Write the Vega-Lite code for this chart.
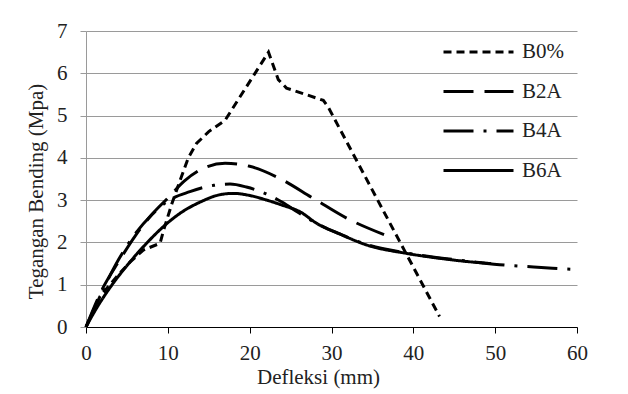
{
  "$schema": "https://vega.github.io/schema/vega-lite/v6.json",
  "width": 491,
  "height": 296,
  "autosize": "none",
  "padding": {"left": 86, "top": 31, "right": 51, "bottom": 67},
  "background": "white",
  "config": {
    "font": "Liberation Serif",
    "view": {"stroke": null},
    "axis": {"labelFont": "Liberation Serif", "titleFont": "Liberation Serif", "labelColor": "#222", "titleColor": "#222", "titleFontWeight": "normal"},
    "legend": {"labelFont": "Liberation Serif"}
  },
  "datasets": {
    "curves": [
      {"s": "B0%", "d": 0, "t": 0},
      {"s": "B0%", "d": 1.7, "t": 0.72},
      {"s": "B0%", "d": 3.75, "t": 1.19},
      {"s": "B0%", "d": 5.4, "t": 1.54},
      {"s": "B0%", "d": 7, "t": 1.82},
      {"s": "B0%", "d": 9.05, "t": 1.98},
      {"s": "B0%", "d": 9.5, "t": 2.3},
      {"s": "B0%", "d": 10.5, "t": 2.92},
      {"s": "B0%", "d": 11.5, "t": 3.47},
      {"s": "B0%", "d": 12.5, "t": 4.0},
      {"s": "B0%", "d": 13.5, "t": 4.34},
      {"s": "B0%", "d": 15, "t": 4.62},
      {"s": "B0%", "d": 17, "t": 4.89},
      {"s": "B0%", "d": 22.3, "t": 6.5},
      {"s": "B0%", "d": 23.5, "t": 5.85},
      {"s": "B0%", "d": 24.5, "t": 5.65},
      {"s": "B0%", "d": 29, "t": 5.36},
      {"s": "B0%", "d": 29.6, "t": 5.2},
      {"s": "B0%", "d": 43.2, "t": 0.25},
      {"s": "B2A", "d": 0, "t": 0},
      {"s": "B2A", "d": 2, "t": 0.9},
      {"s": "B2A", "d": 4, "t": 1.55},
      {"s": "B2A", "d": 6, "t": 2.15},
      {"s": "B2A", "d": 8, "t": 2.65},
      {"s": "B2A", "d": 10, "t": 3.05},
      {"s": "B2A", "d": 12, "t": 3.45},
      {"s": "B2A", "d": 14, "t": 3.72},
      {"s": "B2A", "d": 17, "t": 3.87},
      {"s": "B2A", "d": 20, "t": 3.8},
      {"s": "B2A", "d": 23.3, "t": 3.55},
      {"s": "B2A", "d": 27.8, "t": 3.04},
      {"s": "B2A", "d": 31.9, "t": 2.57},
      {"s": "B2A", "d": 36.6, "t": 2.17},
      {"s": "B4A", "d": 0, "t": 0},
      {"s": "B4A", "d": 2, "t": 0.85},
      {"s": "B4A", "d": 4, "t": 1.6},
      {"s": "B4A", "d": 6, "t": 2.2},
      {"s": "B4A", "d": 8, "t": 2.65},
      {"s": "B4A", "d": 10, "t": 2.98},
      {"s": "B4A", "d": 12.7, "t": 3.2},
      {"s": "B4A", "d": 15.6, "t": 3.35},
      {"s": "B4A", "d": 17.6, "t": 3.38},
      {"s": "B4A", "d": 19.6, "t": 3.31},
      {"s": "B4A", "d": 22, "t": 3.15},
      {"s": "B4A", "d": 24, "t": 2.95},
      {"s": "B4A", "d": 26, "t": 2.7},
      {"s": "B4A", "d": 28.2, "t": 2.45},
      {"s": "B4A", "d": 31, "t": 2.2},
      {"s": "B4A", "d": 34.3, "t": 1.95},
      {"s": "B4A", "d": 39.2, "t": 1.75},
      {"s": "B4A", "d": 43, "t": 1.64},
      {"s": "B4A", "d": 47, "t": 1.55},
      {"s": "B4A", "d": 51.4, "t": 1.46},
      {"s": "B4A", "d": 54.7, "t": 1.42},
      {"s": "B4A", "d": 57, "t": 1.39},
      {"s": "B4A", "d": 60, "t": 1.36},
      {"s": "B6A", "d": 0, "t": 0},
      {"s": "B6A", "d": 1, "t": 0.35},
      {"s": "B6A", "d": 3.3, "t": 1.03},
      {"s": "B6A", "d": 5, "t": 1.45},
      {"s": "B6A", "d": 7.4, "t": 1.98},
      {"s": "B6A", "d": 9.9, "t": 2.45},
      {"s": "B6A", "d": 11.5, "t": 2.69},
      {"s": "B6A", "d": 13.9, "t": 2.95},
      {"s": "B6A", "d": 16.4, "t": 3.13},
      {"s": "B6A", "d": 18, "t": 3.16},
      {"s": "B6A", "d": 20, "t": 3.11},
      {"s": "B6A", "d": 22.1, "t": 3.0},
      {"s": "B6A", "d": 24, "t": 2.88},
      {"s": "B6A", "d": 26.2, "t": 2.72},
      {"s": "B6A", "d": 28.2, "t": 2.45},
      {"s": "B6A", "d": 31, "t": 2.2},
      {"s": "B6A", "d": 34.3, "t": 1.94},
      {"s": "B6A", "d": 39.2, "t": 1.74},
      {"s": "B6A", "d": 43, "t": 1.63},
      {"s": "B6A", "d": 47, "t": 1.54},
      {"s": "B6A", "d": 49.5, "t": 1.5}
    ]
  },
  "data": {"name": "curves"},
  "encoding": {
    "x": {
      "field": "d", "type": "quantitative",
      "scale": {"domain": [0, 60], "nice": false},
      "axis": {"values": [0, 10, 20, 30, 40, 50, 60], "title": "Defleksi (mm)", "titleX": 232, "grid": false, "domainColor": "#000", "tickColor": "#000", "tickSize": 6, "labelFontSize": 21, "titleFontSize": 21, "labelPadding": 9, "titlePadding": 3, "labelFlush": false}
    },
    "y": {
      "field": "t", "type": "quantitative",
      "scale": {"domain": [0, 7], "nice": false},
      "axis": {"values": [0, 1, 2, 3, 4, 5, 6, 7], "title": "Tegangan  Bending (Mpa)", "titleY": 160, "grid": true, "gridColor": "#9a9a9a", "gridWidth": 1, "domainColor": "#9a9a9a", "tickColor": "#9a9a9a", "tickSize": 6, "labelFontSize": 21, "titleFontSize": 21, "labelPadding": 13, "titlePadding": 10, "labelFlush": false}
    },
    "strokeDash": {
      "field": "s", "type": "nominal",
      "scale": {"domain": ["B0%", "B2A", "B4A", "B6A"], "range": [[8, 5], [30, 11], [30, 10, 3, 10], [1, 0]]},
      "legend": {"title": null, "orient": "none", "legendX": 373.5, "legendY": 2, "symbolType": "M-2,0H2", "symbolSize": 1225, "symbolStrokeWidth": 3, "symbolStrokeColor": "#000", "labelFontSize": 21, "labelColor": "#222", "rowPadding": 10.5, "labelOffset": 24.5}
    }
  },
  "layer": [
    {"transform": [{"filter": "datum.s === 'B0%'"}], "mark": {"type": "line", "color": "#000", "strokeWidth": 3}},
    {"transform": [{"filter": "datum.s !== 'B0%'"}], "mark": {"type": "line", "color": "#000", "strokeWidth": 3, "interpolate": "monotone"}}
  ]
}
